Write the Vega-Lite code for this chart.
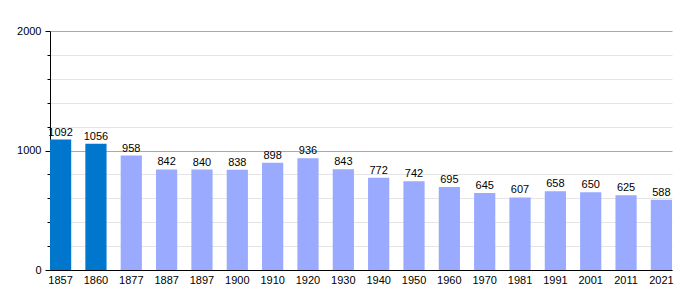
{
  "$schema": "https://vega.github.io/schema/vega-lite/v6.json",
  "width": 622,
  "height": 239,
  "autosize": {"type": "none"},
  "padding": {"left": 50, "top": 31, "right": 28, "bottom": 30},
  "background": "white",
  "config": {
    "view": {"stroke": null},
    "font": "Liberation Sans",
    "axis": {"labelFont": "Liberation Sans", "labelFontSize": 11, "labelColor": "#000"}
  },
  "data": {
    "values": [
      {"year": "1857", "pop": 1092, "group": "a"},
      {"year": "1860", "pop": 1056, "group": "a"},
      {"year": "1877", "pop": 958, "group": "b"},
      {"year": "1887", "pop": 842, "group": "b"},
      {"year": "1897", "pop": 840, "group": "b"},
      {"year": "1900", "pop": 838, "group": "b"},
      {"year": "1910", "pop": 898, "group": "b"},
      {"year": "1920", "pop": 936, "group": "b"},
      {"year": "1930", "pop": 843, "group": "b"},
      {"year": "1940", "pop": 772, "group": "b"},
      {"year": "1950", "pop": 742, "group": "b"},
      {"year": "1960", "pop": 695, "group": "b"},
      {"year": "1970", "pop": 645, "group": "b"},
      {"year": "1981", "pop": 607, "group": "b"},
      {"year": "1991", "pop": 658, "group": "b"},
      {"year": "2001", "pop": 650, "group": "b"},
      {"year": "2011", "pop": 625, "group": "b"},
      {"year": "2021", "pop": 588, "group": "b"}
    ]
  },
  "encoding": {
    "x": {
      "field": "year", "type": "ordinal", "sort": null,
      "scale": {"paddingInner": 0.4, "paddingOuter": 0},
      "axis": {"title": null, "labelAngle": 0, "ticks": false, "domainColor": "#000", "labelPadding": 4, "grid": false}
    },
    "y": {
      "field": "pop", "type": "quantitative",
      "scale": {"domain": [0, 2000], "nice": false},
      "axis": {
        "title": null,
        "values": [0, 200, 400, 600, 800, 1000, 1200, 1400, 1600, 1800, 2000],
        "labelExpr": "datum.value % 1000 === 0 ? datum.value : ''",
        "grid": true,
        "gridColor": {"condition": {"test": "datum.value % 1000 === 0", "value": "#aaaaaa"}, "value": "#e4e4e4"},
        "tickColor": "#000",
        "tickSize": {"condition": {"test": "datum.value % 1000 === 0", "value": 5}, "value": 3},
        "domainColor": "#000",
        "labelPadding": 4
      }
    }
  },
  "layer": [
    {
      "mark": {"type": "bar"},
      "encoding": {
        "color": {
          "field": "group", "type": "nominal",
          "scale": {"domain": ["a", "b"], "range": ["#0077cc", "#99aaff"]},
          "legend": null
        }
      }
    },
    {
      "mark": {"type": "text", "baseline": "bottom", "dy": -2, "fontSize": 11, "color": "#000"},
      "encoding": {"text": {"field": "pop", "type": "quantitative"}}
    }
  ]
}
